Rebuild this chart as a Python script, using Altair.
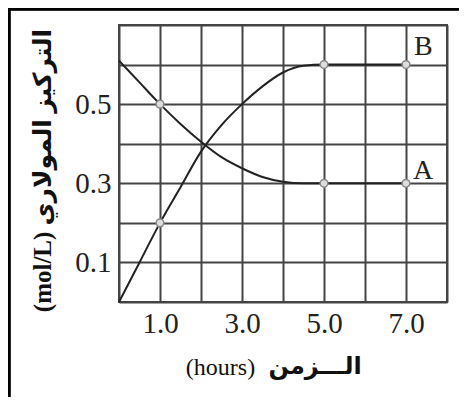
import altair as alt
import pandas as pd

# Curve B (product) and curve A (reactant)
b_hours = [0, 0.5, 1, 1.5, 2, 2.5, 3, 3.5, 4, 4.5, 5, 6, 7]
b_conc = [0.0, 0.10, 0.20, 0.29, 0.38, 0.447, 0.50, 0.545, 0.58, 0.597, 0.60, 0.60, 0.60]
a_hours = [0, 0.5, 1, 1.5, 2, 2.5, 3, 3.5, 4, 4.5, 5, 6, 7]
a_conc = [0.61, 0.555, 0.50, 0.45, 0.405, 0.366, 0.338, 0.316, 0.304, 0.30, 0.30, 0.30, 0.30]

# marked points
pt_hours = [1, 5, 7, 1, 5, 7]
pt_conc = [0.2, 0.6, 0.6, 0.5, 0.3, 0.3]

# curve labels
lab_text = ["B", "A"]
lab_hours = [7.42, 7.42]
lab_conc = [0.645, 0.33]

x_grid = [0, 1, 2, 3, 4, 5, 6, 7, 8]
y_grid = [0, 0.1, 0.2, 0.3, 0.4, 0.5, 0.6, 0.7]

x_title_en = "(hours)"
x_title_ar = ["الـــزمن"]
y_title = "(mol/L) التركيز المولاري"

lines = pd.DataFrame(
    {"h": b_hours + a_hours, "c": b_conc + a_conc,
     "s": ["B"] * len(b_hours) + ["A"] * len(a_hours)}
)
pts = pd.DataFrame({"h": pt_hours, "c": pt_conc})
labs = pd.DataFrame({"t": lab_text, "h": lab_hours, "c": lab_conc})
ar = pd.DataFrame({"t": x_title_ar})

SERIF = "Liberation Serif, DejaVu Serif, DejaVu Sans"

xs = alt.Scale(domain=[0, 8], nice=False, zero=False)
ys = alt.Scale(domain=[0, 0.7], nice=False, zero=False)

x_axis = alt.Axis(
    values=x_grid, tickCount=20,
    labelExpr="datum.value % 2 == 1 ? format(datum.value, '.1f') : ''",
    title=x_title_en,
    titleX=101, titleY=65, titleAlign="center", titleBaseline="middle",
    titleFontWeight="normal", titleFontSize=24,
    labelPadding=7,
)
y_axis = alt.Axis(
    values=y_grid, tickCount=20,
    labelExpr="(round(datum.value * 10) % 2 == 1 && datum.value < 0.65) ? format(datum.value, '.1f') : ''",
    title=y_title,
    titleX=-77, titleY=145, titleAngle=-90, titleAlign="center", titleBaseline="middle",
    titleFontWeight="bold", titleFontSize=25,
    labelPadding=8,
)

curves = alt.Chart(lines).mark_line(
    color="#222222", strokeWidth=2, interpolate="monotone"
).encode(
    x=alt.X("h:Q", scale=xs, axis=x_axis),
    y=alt.Y("c:Q", scale=ys, axis=y_axis),
    detail="s:N",
)

dots = alt.Chart(pts).mark_point(
    shape="circle", size=60, filled=True, fill="#dddddd", stroke="#888888", strokeWidth=1.5, opacity=1
).encode(x=alt.X("h:Q", scale=xs), y=alt.Y("c:Q", scale=ys))

letters = alt.Chart(labs).mark_text(
    font=SERIF, fontSize=28, color="#222222", align="center", baseline="middle"
).encode(x=alt.X("h:Q", scale=xs), y=alt.Y("c:Q", scale=ys), text="t:N")

ar_title = alt.Chart(ar).mark_text(
    font=SERIF, fontSize=24, fontWeight="bold", color="#111111", align="center", baseline="middle"
).encode(x=alt.value(196), y=alt.value(342), text="t:N")

frame_left = alt.Chart(pts).mark_rule(color="black", strokeWidth=2.5).encode(
    x=alt.value(-110), y=alt.value(-16), y2=alt.value(400)
)
frame_top = alt.Chart(pts).mark_rule(color="black", strokeWidth=2.5).encode(
    x=alt.value(-111), x2=alt.value(340), y=alt.value(-16)
)

chart = alt.layer(curves, dots, letters, ar_title, frame_left, frame_top).properties(
    width=328, height=277,
    autosize=alt.AutoSizeParams(type="none"),
    padding={"left": 111, "top": 17, "right": 15, "bottom": 95},
).configure_view(
    stroke="#444444", strokeWidth=2
).configure_axis(
    grid=True, gridColor="#444444", gridWidth=2, gridOpacity=1,
    domain=False, ticks=False,
    labelFont=SERIF, labelFontSize=29, labelColor="#222222",
    titleFont=SERIF, titleColor="#111111",
)

chart.save("out.html", embed_options={"renderer": "svg", "actions": False})
